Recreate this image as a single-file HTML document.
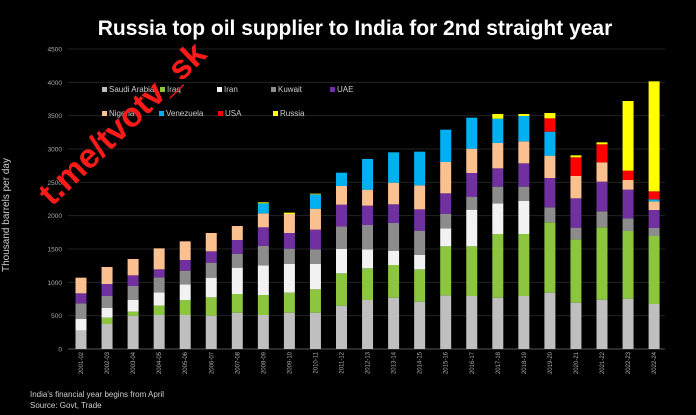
<!DOCTYPE html>
<html><head><meta charset="utf-8"><style>
html,body{margin:0;padding:0;background:#000;}
svg{display:block;font-family:"Liberation Sans",sans-serif;}
</style></head><body>
<svg id="c" width="696" height="415" viewBox="0 0 696 415" xmlns="http://www.w3.org/2000/svg">
<rect width="696" height="415" fill="#000"/>
<text x="355" y="35" text-anchor="middle" fill="#fff" font-size="21" font-weight="bold">Russia top oil supplier to India for 2nd straight year</text>
<g id="grid"></g>
<g id="bars"></g>
<g id="legend" font-size="8" fill="#ccc">
<rect x="102" y="87" width="5" height="5" fill="#bfbfbf"/><text x="109" y="92">Saudi Arabia</text>
<rect x="160" y="87" width="5" height="5" fill="#8cc63f"/><text x="167" y="92">Iraq</text>
<rect x="217" y="87" width="5" height="5" fill="#f2f2f2"/><text x="224" y="92">Iran</text>
<rect x="271" y="87" width="5" height="5" fill="#8c8c8c"/><text x="278" y="92">Kuwait</text>
<rect x="330" y="87" width="5" height="5" fill="#7030a0"/><text x="337" y="92">UAE</text>
<rect x="102" y="111" width="5" height="5" fill="#fac090"/><text x="109" y="116">Nigeria</text>
<rect x="159" y="111" width="5" height="5" fill="#00b0f0"/><text x="166" y="116">Venezuela</text>
<rect x="218" y="111" width="5" height="5" fill="#ff0000"/><text x="225" y="116">USA</text>
<rect x="273" y="111" width="5" height="5" fill="#ffff00"/><text x="280" y="116">Russia</text>
</g>
<text transform="translate(9,215) rotate(-90)" text-anchor="middle" fill="#ccc" font-size="10">Thousand barrels per day</text>
<text x="30" y="397" fill="#ccc" font-size="8">India's financial year begins from April</text>
<text x="30" y="408" fill="#ccc" font-size="8">Source: Govt, Trade</text>
<text transform="translate(52,207) rotate(-44)" fill="#ff1a1a" font-size="34" font-weight="bold">t.me/tvotv_sk</text>
</svg>
<script>
var ns="http://www.w3.org/2000/svg";
function y(v){return 349-v/15;}
var g=document.getElementById('grid');
for(var v=0;v<=4500;v+=500){
 var l=document.createElementNS(ns,'line');
 l.setAttribute('x1',68);l.setAttribute('x2',665);l.setAttribute('y1',y(v));l.setAttribute('y2',y(v));
 l.setAttribute('stroke',v==0?'#555':'#222');l.setAttribute('stroke-width',1);g.appendChild(l);
 var t=document.createElementNS(ns,'text');t.setAttribute('x',62);t.setAttribute('y',y(v)+2.5);
 t.setAttribute('text-anchor','end');t.setAttribute('fill','#aaa');t.setAttribute('font-size','6.5');t.textContent=v;g.appendChild(t);
}
var C={s:'#bfbfbf',q:'#8cc63f',i:'#f2f2f2',k:'#8c8c8c',u:'#7030a0',n:'#fac090',v:'#00b0f0',r:'#ff0000',y:'#ffff00'};
var D=[
[['s',275],['i',450],['k',685],['u',835],['n',1070]],
[['s',375],['q',470],['i',615],['k',795],['u',975],['n',1230]],
[['s',500],['q',560],['i',735],['k',945],['u',1105],['n',1350]],
[['s',510],['q',650],['i',850],['k',1075],['u',1195],['n',1510]],
[['s',510],['q',735],['i',970],['k',1175],['u',1335],['n',1615]],
[['s',500],['q',775],['i',1070],['k',1295],['u',1465],['n',1740]],
[['s',545],['q',825],['i',1220],['k',1425],['u',1635],['n',1845]],
[['s',510],['q',810],['i',1255],['k',1545],['u',1825],['n',2035],['v',2185],['y',2200]],
[['s',545],['q',845],['i',1275],['k',1505],['u',1740],['n',2025],['y',2045]],
[['s',545],['q',895],['i',1275],['k',1495],['u',1790],['n',2105],['v',2320],['y',2330]],
[['s',650],['q',1135],['i',1500],['k',1840],['u',2165],['n',2445],['v',2645]],
[['s',735],['q',1210],['i',1495],['k',1860],['u',2150],['n',2390],['v',2850]],
[['s',770],['q',1260],['i',1475],['k',1890],['u',2170],['n',2495],['v',2950]],
[['s',710],['q',1195],['i',1410],['k',1775],['u',2095],['n',2455],['v',2960]],
[['s',805],['q',1540],['i',1810],['k',2025],['u',2335],['n',2805],['v',3290]],
[['s',795],['q',1540],['i',2090],['k',2285],['u',2640],['n',3005],['v',3470]],
[['s',770],['q',1725],['i',2185],['k',2435],['u',2710],['n',3090],['v',3455],['y',3525]],
[['s',795],['q',1725],['i',2220],['k',2435],['u',2785],['n',3115],['v',3495],['y',3525]],
[['s',845],['q',1900],['k',2125],['u',2565],['n',2900],['v',3260],['r',3460],['y',3540]],
[['s',695],['q',1645],['k',1820],['u',2260],['n',2595],['r',2875],['y',2905]],
[['s',740],['q',1825],['k',2065],['u',2510],['n',2800],['r',3070],['y',3100]],
[['s',755],['q',1770],['k',1960],['u',2390],['n',2535],['r',2675],['y',3720]],
[['s',675],['q',1695],['k',1815],['u',2085],['n',2215],['v',2245],['r',2365],['y',4015]]
];
var L=['2001-02','2002-03','2003-04','2004-05','2005-06','2006-07','2007-08','2008-09','2009-10','2010-11','2011-12','2012-13','2013-14','2014-15','2015-16','2016-17','2017-18','2018-19','2019-20','2020-21','2021-22','2022-23','2022-24'];
var b=document.getElementById('bars');
D.forEach(function(bar,i){
 var cx=81+i*26.05,prev=0;
 bar.forEach(function(s){
  var r=document.createElementNS(ns,'rect');
  r.setAttribute('x',cx-5.5);r.setAttribute('width',11);
  r.setAttribute('y',y(s[1]));r.setAttribute('height',y(prev)-y(s[1]));
  r.setAttribute('fill',C[s[0]]);b.appendChild(r);prev=s[1];
 });
 var t=document.createElementNS(ns,'text');
 t.setAttribute('transform','translate('+(cx+2)+',352) rotate(-90)');
 t.setAttribute('text-anchor','end');t.setAttribute('fill','#aaa');t.setAttribute('font-size','6');
 t.textContent=L[i];b.appendChild(t);
});
</script>
</body></html>
